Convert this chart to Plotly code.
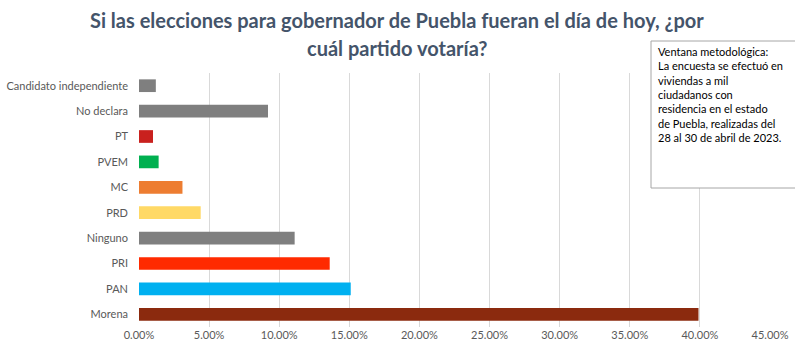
import plotly.graph_objects as go

categories = ["Morena", "PAN", "PRI", "Ninguno", "PRD", "MC", "PVEM", "PT",
              "No declara", "Candidato independiente"]
values = [0.399, 0.151, 0.136, 0.111, 0.044, 0.031, 0.014, 0.010, 0.092, 0.012]
colors = ["#8B2A0E", "#00B0F0", "#FF2A00", "#7F7F7F", "#FFD966", "#ED7D31",
          "#00B050", "#C9211E", "#7F7F7F", "#7F7F7F"]
tick_vals = [0, 0.05, 0.10, 0.15, 0.20, 0.25, 0.30, 0.35, 0.40, 0.45]

title_lines = ["Si las elecciones para gobernador de Puebla fueran el día de hoy, ¿por",
               "cuál partido votaría?"]
note_text = ("Ventana metodológica:<br>La encuesta se efectuó en<br>viviendas a mil<br>"
             "ciudadanos con<br>residencia en el estado<br>de Puebla, realizadas del<br>"
             "28 al 30 de abril de 2023.")

W, H = 795, 355
L, R, T, B = 139, 25, 73, 28
pw, ph = W - L - R, H - T - B

def px(x):
    return (x - L) / pw

def py(y):
    return (H - B - y) / ph

fig = go.Figure(go.Bar(
    x=values, y=categories, orientation="h",
    marker=dict(color=colors, line=dict(width=0)),
    width=0.5,
))

fig.update_layout(
    width=W, height=H,
    margin=dict(l=L, r=R, t=T, b=B, autoexpand=False),
    paper_bgcolor="white", plot_bgcolor="white",
    font=dict(family="Lato", size=11, color="#595959"),
    xaxis=dict(range=[0, 0.45], tickvals=tick_vals, tickformat=".2%",
               showgrid=True, gridcolor="#D9D9D9", gridwidth=1,
               zeroline=False, showline=False, ticks="", automargin=False,
               tickfont=dict(size=11, color="#595959")),
    yaxis=dict(showgrid=False, zeroline=False, showline=False, ticks="",
               automargin=False, ticklabelstandoff=10,
               tickfont=dict(size=11, color="#595959")),
    showlegend=False,
    bargap=0.5,
)

for line, yc in zip(title_lines, [20, 48]):
    fig.add_annotation(text=line, xref="paper", yref="paper",
                       x=px(397), y=py(yc), xanchor="center", yanchor="middle",
                       showarrow=False,
                       font=dict(family="Lato", size=20, color="#44546A", weight="bold"))

fig.add_shape(type="rect", xref="paper", yref="paper",
              x0=px(651), x1=px(800), y0=py(188), y1=py(41),
              line=dict(color="#A6A6A6", width=1), fillcolor="white", layer="above")

fig.add_annotation(text=note_text, xref="paper", yref="paper",
                   x=px(656), y=py(43), xanchor="left", yanchor="top",
                   align="left", showarrow=False,
                   font=dict(family="Lato", size=11, color="#000000"))

fig.write_html("out.html", config={"displayModeBar": False},
               post_script="document.body.style.margin='0';document.body.style.overflow='hidden';")
